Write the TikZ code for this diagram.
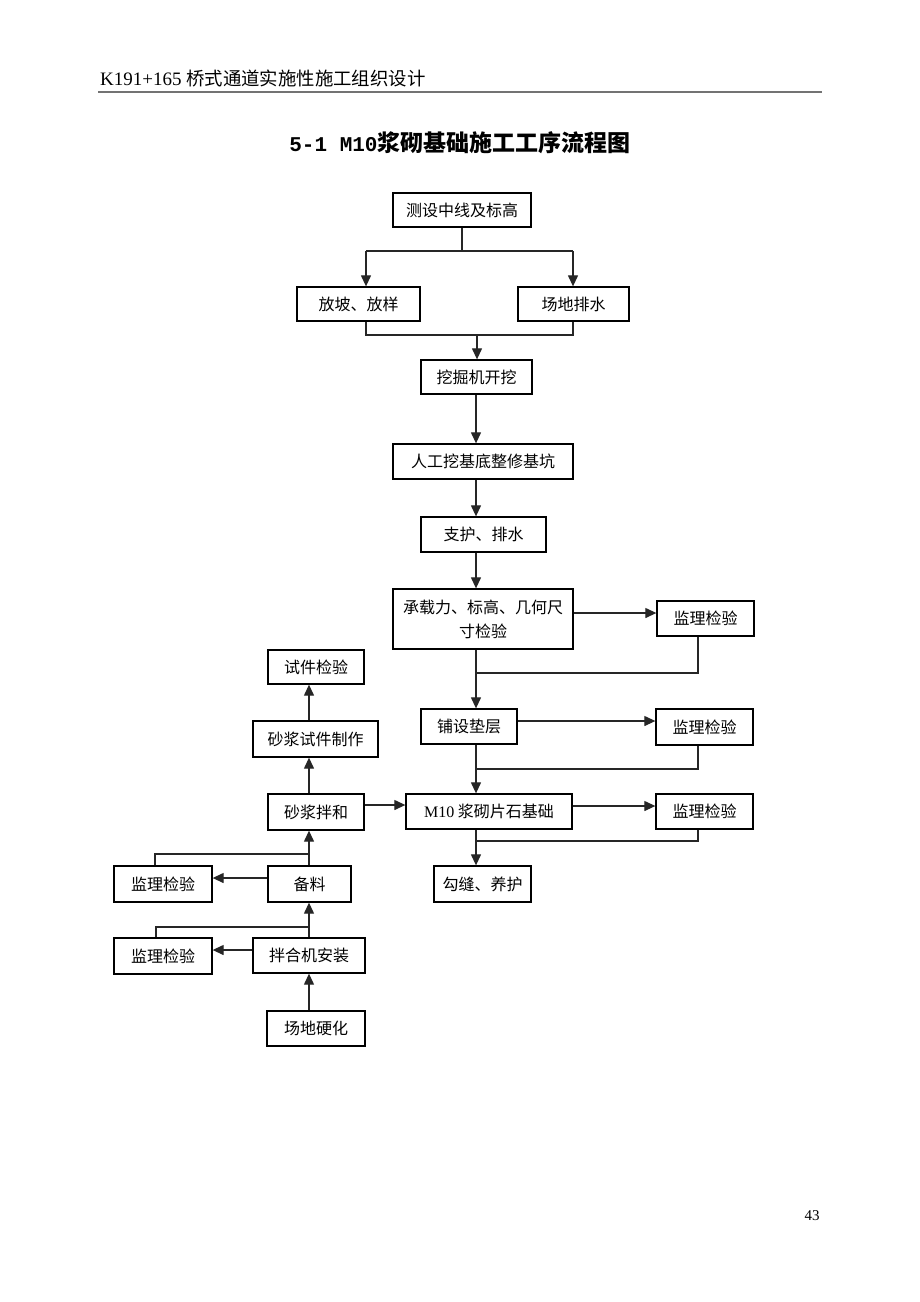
\documentclass[tikz,border=0pt]{standalone}
\usepackage{fontspec}
\setmainfont{Liberation Serif}
\newfontfamily\cjk{Noto Sans CJK SC}
\newfontfamily\monob{Liberation Mono}
\usetikzlibrary{arrows.meta,calc}
\begin{document}
\begin{tikzpicture}[x=1pt,y=-1pt,
  box/.style={draw=black,line width=1.3pt,inner sep=0pt,align=center,
    font=\cjk\fontsize{16}{24}\selectfont},
  ln/.style={line width=1.2pt,draw=black!85},
  arr/.style={ln,-{Triangle[length=11pt,width=10pt]}}]
\useasboundingbox (0,0) rectangle (920,1302);
% header
\node[anchor=west,inner sep=0pt] (hdr) at (100,78) {\fontsize{19}{19}\selectfont K191+165 {\cjk\fontsize{18.4}{20}\selectfont 桥式通道实施性施工组织设计}};
\coordinate (hl) at (98,92);
\coordinate (hr) at (822,92);
\draw[line width=2.5pt,draw=black!55] (hl) -- (hr);
\node[inner sep=0pt] (title) at (460,143) {{\monob\bfseries\fontsize{21}{21}\selectfont 5-1 M10}{\cjk\bfseries\fontsize{23}{23}\selectfont 浆砌基础施工工序流程图}};
\node[inner sep=0pt] (pg) at (812,1216) {\fontsize{15}{15}\selectfont 43};
% main column
\node[box,minimum width=138pt,minimum height=34pt] (b1) at (462,210) {测设中线及标高};
\node[box,minimum width=123pt,minimum height=34pt] (b2) at (358.5,304) {放坡、放样};
\node[box,minimum width=111pt,minimum height=34pt] (b3) at (573.5,304) {场地排水};
\node[box,minimum width=111pt,minimum height=34pt] (b4) at (476.5,377) {挖掘机开挖};
\node[box,minimum width=180pt,minimum height=35pt] (b5) at (483,461.5) {人工挖基底整修基坑};
\node[box,minimum width=125pt,minimum height=35pt] (b6) at (483.5,534.5) {支护、排水};
\node[box,minimum width=180pt,minimum height=60pt] (b7) at (483,619) {承载力、标高、几何尺\\寸检验};
\node[box,minimum width=97pt,minimum height=35pt] (m1) at (705.5,618.5) {监理检验};
\node[box,minimum width=96pt,minimum height=35pt] (b8) at (469,726.5) {铺设垫层};
\node[box,minimum width=97pt,minimum height=36pt] (m2) at (704.5,727) {监理检验};
\node[box,minimum width=166pt,minimum height=35pt] (b9) at (489,811.5) {{\rmfamily M10} 浆砌片石基础};
\node[box,minimum width=97pt,minimum height=35pt] (m3) at (704.5,811.5) {监理检验};
\node[box,minimum width=97pt,minimum height=36pt] (b10) at (482.5,884) {勾缝、养护};
% left column
\node[box,minimum width=96pt,minimum height=34pt] (l1) at (316,667) {试件检验};
\node[box,minimum width=125pt,minimum height=36pt] (l2) at (315.5,739) {砂浆试件制作};
\node[box,minimum width=96pt,minimum height=36pt] (l3) at (316,812) {砂浆拌和};
\node[box,minimum width=83pt,minimum height=36pt] (l4) at (309.5,884) {备料};
\node[box,minimum width=98pt,minimum height=36pt] (lm4) at (163,884) {监理检验};
\node[box,minimum width=112pt,minimum height=35pt] (l5) at (309,955.5) {拌合机安装};
\node[box,minimum width=98pt,minimum height=36pt] (lm5) at (163,956) {监理检验};
\node[box,minimum width=98pt,minimum height=35pt] (l6) at (316,1028.5) {场地硬化};
% coordinates
\coordinate (s1) at (462,251);
\coordinate (s1l) at (366,251);
\coordinate (s1r) at (573,251);
\coordinate (j2) at (366,335);
\coordinate (j3) at (573,335);
\coordinate (jm) at (477,335);
\coordinate (cx) at (476,0);
\coordinate (lx) at (309,0);
\coordinate (r1) at (698,673);
\coordinate (c1) at (476,673);
\coordinate (r2) at (698,769);
\coordinate (c2) at (476,769);
\coordinate (r3) at (698,841);
\coordinate (c3) at (476,841);
\coordinate (q4) at (155,854);
\coordinate (p4) at (309,854);
\coordinate (q5) at (156,927);
\coordinate (p5) at (309,927);
% top split
\draw[ln] (b1.south -| s1) -- (s1);
\draw[ln] (s1l) -- (s1r);
\draw[arr] (s1l) -- (b2.north -| s1l);
\draw[arr] (s1r) -- (b3.north -| s1r);
\draw[ln] (b2.south -| j2) -- (j2) -- (j3) -- (b3.south -| j3);
\draw[arr] (jm) -- (b4.north -| jm);
% main flow
\draw[arr] (b4.south -| cx) -- (b5.north -| cx);
\draw[arr] (b5.south -| cx) -- (b6.north -| cx);
\draw[arr] (b6.south -| cx) -- (b7.north -| cx);
\draw[arr] (b7.south -| cx) -- (b8.north -| cx);
\draw[arr] (b8.south -| cx) -- (b9.north -| cx);
\draw[arr] (b9.south -| cx) -- (b10.north -| cx);
\draw[arr] ($(b7.east)+(0,-6)$) -- ($(m1.west)+(0,-5.5)$);
\draw[arr] ($(b8.east)+(0,-5.5)$) -- ($(m2.west)+(0,-6)$);
\draw[arr] ($(b9.east)+(0,-5.5)$) -- ($(m3.west)+(0,-5.5)$);
\draw[ln] (m1.south -| r1) -- (r1) -- (c1);
\draw[ln] (m2.south -| r2) -- (r2) -- (c2);
\draw[ln] (m3.south -| r3) -- (r3) -- (c3);
% left flow
\draw[arr] (l3.north -| lx) -- (l2.south -| lx);
\draw[arr] (l2.north -| lx) -- (l1.south -| lx);
\draw[arr] ($(l3.east)+(0,-7)$) -- ($(b9.west)+(0,-6.5)$);
\draw[arr] (l4.north -| lx) -- (l3.south -| lx);
\draw[arr] (l5.north -| lx) -- (l4.south -| lx);
\draw[arr] (l6.north -| lx) -- (l5.south -| lx);
\draw[arr] ($(l4.west)+(0,-6)$) -- ($(lm4.east)+(0,-6)$);
\draw[arr] ($(l5.west)+(0,-5.5)$) -- ($(lm5.east)+(0,-6)$);
\draw[ln] (lm4.north -| q4) -- (q4) -- (p4);
\draw[ln] (lm5.north -| q5) -- (q5) -- (p5);
\end{tikzpicture}
\end{document}
